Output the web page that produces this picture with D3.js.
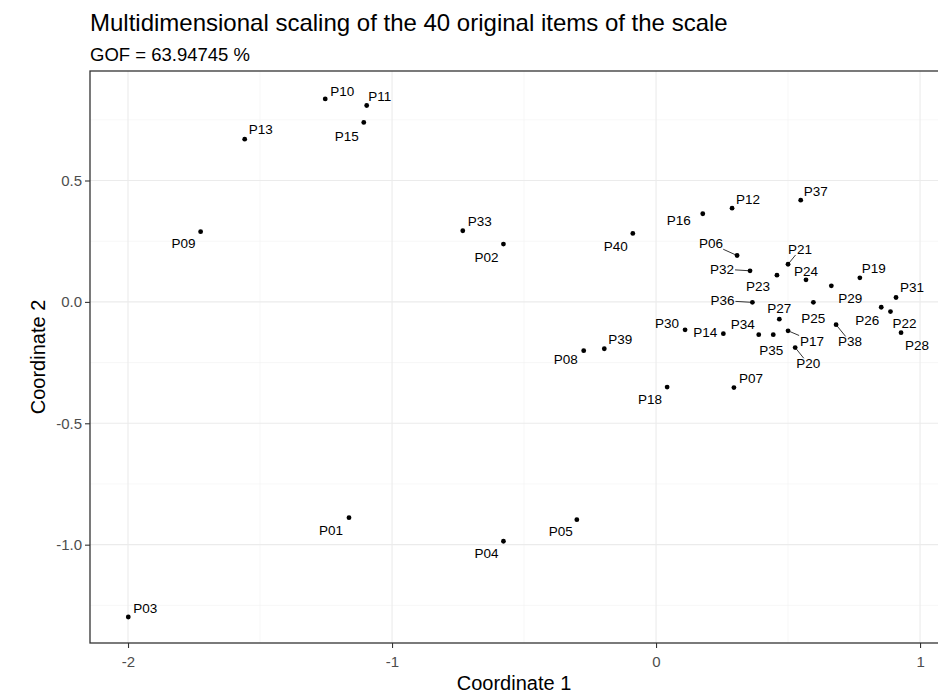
<!DOCTYPE html>
<html lang="en">
<head>
    <meta charset="UTF-8">
    <script src="https://d3js.org/d3.v7.min.js"></script>
    <title>MDS</title>
    <style>
        body { margin: 0; background: #fff; }
        svg text { font-family: 'Liberation Sans', Arial, sans-serif; }
        .tick text { fill: #4d4d4d; font-size: 15px; }
        .tick line { stroke: #333; stroke-width: 1.1; }
        .domain { display: none; }
        text.lab { fill: black; font-size: 13.5px; text-anchor: middle; }
    </style>
</head>
<body>
<svg height="693" width="938"></svg>
<script>
    // item names and MDS coordinates
    const items = ["P01","P02","P03","P04","P05","P06","P07","P08","P09","P10",
                   "P11","P12","P13","P14","P15","P16","P17","P18","P19","P20",
                   "P21","P22","P23","P24","P25","P26","P27","P28","P29","P30",
                   "P31","P32","P33","P34","P35","P36","P37","P38","P39","P40"];
    const coord1 = [-1.163,-0.578,-1.999,-0.578,-0.300, 0.307, 0.295,-0.274,-1.725,-1.253,
                    -1.096, 0.288,-1.558, 0.255,-1.107, 0.177, 0.500, 0.042, 0.772, 0.527,
                     0.500, 0.888, 0.458, 0.568, 0.596, 0.853, 0.467, 0.928, 0.664, 0.110,
                     0.909, 0.356,-0.732, 0.389, 0.444, 0.365, 0.548, 0.682,-0.196,-0.088];
    const coord2 = [-0.889, 0.238,-1.298,-0.986,-0.897, 0.191,-0.353,-0.201, 0.289, 0.836,
                     0.809, 0.386, 0.670,-0.131, 0.739, 0.363,-0.119,-0.351, 0.099,-0.188,
                     0.155,-0.040, 0.110, 0.091,-0.002,-0.022,-0.071,-0.127, 0.066,-0.115,
                     0.018, 0.128, 0.293,-0.135,-0.135,-0.002, 0.419,-0.094,-0.193, 0.282];
    const xTicks = [-2, -1, 0, 1];
    const yTicks = [-1.0, -0.5, 0.0, 0.5];
    const xMinor = [-1.5, -0.5, 0.5];
    const yMinor = [-1.25, -0.75, -0.25, 0.25, 0.75];
    const title = "Multidimensional scaling of the 40 original items of the scale";
    const subtitle = "GOF = 63.94745 %";

    // where the repelled labels sit relative to their point (px)
    const nudge = {
        P01:[-18,13], P02:[-17,13], P03:[17,-9], P04:[-17,12], P05:[-16,12],
        P06:[-26,-12], P07:[17,-9], P08:[-18,9], P09:[-17,12], P10:[17,-8],
        P11:[13,-9], P12:[16,-9], P13:[16,-10], P14:[-18,-1], P15:[-17,14],
        P16:[-24,7], P17:[24,10], P18:[-17,12], P19:[14,-10], P20:[13,16],
        P21:[12,-15], P22:[14,12], P23:[-19,11], P24:[0,-9], P25:[0,16],
        P26:[-14,13], P27:[0,-11], P28:[16,13], P29:[19,12], P30:[-18,-7],
        P31:[16,-10], P32:[-28,-2], P33:[17,-9], P34:[-16,-10], P35:[-2,16],
        P36:[-30,-2], P37:[15,-9], P38:[14,17], P39:[16,-9], P40:[-17,13]
    };
    const withSegment = ["P06","P32","P36","P21","P17","P20","P38"];

    const pLeft = 90, pRight = 938, pTop = 71, pBottom = 643;
    const x = d3.scaleLinear().domain([-2.144, 1.068]).range([pLeft, pRight]);
    const y = d3.scaleLinear().domain([-1.405, 0.951]).range([pBottom, pTop]);

    const svg = d3.select("svg");

    // grid
    const grid = svg.append("g");
    grid.selectAll("line.vmin").data(xMinor).enter().append("line")
            .attr("x1", x).attr("x2", x).attr("y1", pTop).attr("y2", pBottom)
            .attr("stroke", "#f2f2f2").attr("stroke-width", 0.6);
    grid.selectAll("line.hmin").data(yMinor).enter().append("line")
            .attr("y1", y).attr("y2", y).attr("x1", pLeft).attr("x2", pRight)
            .attr("stroke", "#f2f2f2").attr("stroke-width", 0.6);
    grid.selectAll("line.vmaj").data(xTicks).enter().append("line")
            .attr("x1", x).attr("x2", x).attr("y1", pTop).attr("y2", pBottom)
            .attr("stroke", "#ebebeb").attr("stroke-width", 1.1);
    grid.selectAll("line.hmaj").data(yTicks).enter().append("line")
            .attr("y1", y).attr("y2", y).attr("x1", pLeft).attr("x2", pRight)
            .attr("stroke", "#ebebeb").attr("stroke-width", 1.1);

    // axes
    svg.append("g").attr("transform", `translate(0,${pBottom})`)
            .call(d3.axisBottom(x).tickValues(xTicks).tickSize(5).tickPadding(8)
                    .tickFormat(d3.format("d")));
    svg.append("g").attr("transform", `translate(${pLeft},0)`)
            .call(d3.axisLeft(y).tickValues(yTicks).tickSize(5).tickPadding(3)
                    .tickFormat(d3.format(".1f")));
    svg.selectAll(".tick text").text(function () { return this.textContent.replace("\u2212", "-"); });

    // panel border (right side runs just past the edge of the picture)
    svg.append("rect").attr("x", pLeft).attr("y", pTop)
            .attr("width", pRight - pLeft + 4).attr("height", pBottom - pTop)
            .attr("fill", "none").attr("stroke", "#333").attr("stroke-width", 1.3);

    // points + labels
    const data = items.map((d, i) => ({name: d, c1: coord1[i], c2: coord2[i]}));
    const pts = svg.append("g");
    const labs = pts.selectAll("text").data(data).enter().append("text")
            .attr("class", "lab")
            .attr("x", d => x(d.c1) + nudge[d.name][0])
            .attr("y", d => y(d.c2) + nudge[d.name][1])
            .attr("dy", "0.35em")
            .text(d => d.name);

    // segment from point towards label centre, stopping at the label box
    labs.filter(d => withSegment.includes(d.name)).each(function (d) {
        const b = this.getBBox();
        const px = x(d.c1), py = y(d.c2);
        const cx = b.x + b.width / 2, cy = b.y + b.height / 2;
        const hw = b.width / 2 + 1, hh = b.height / 2 - 2;
        const vx = px - cx, vy = py - cy;
        const t = Math.min(vx ? hw / Math.abs(vx) : Infinity, vy ? hh / Math.abs(vy) : Infinity);
        pts.append("line").attr("x1", px).attr("y1", py)
                .attr("x2", cx + vx * t).attr("y2", cy + vy * t)
                .attr("stroke", "black").attr("stroke-width", 0.8);
    });

    pts.selectAll("circle").data(data).enter().append("circle")
            .attr("cx", d => x(d.c1)).attr("cy", d => y(d.c2))
            .attr("r", 2.4).attr("fill", "black");

    // titles
    svg.append("text").attr("x", pLeft).attr("y", 31).attr("font-size", 24).attr("fill", "black").text(title);
    svg.append("text").attr("x", pLeft).attr("y", 61).attr("font-size", 18.5).attr("fill", "black").text(subtitle);
    svg.append("text").attr("x", (pLeft + pRight) / 2).attr("y", 690).attr("text-anchor", "middle")
            .attr("font-size", 20).attr("fill", "black").text("Coordinate 1");
    svg.append("text").attr("transform", `translate(45,${(pTop + pBottom) / 2}) rotate(-90)`)
            .attr("text-anchor", "middle").attr("font-size", 20).attr("fill", "black").text("Coordinate 2");
</script>
</body>
</html>
